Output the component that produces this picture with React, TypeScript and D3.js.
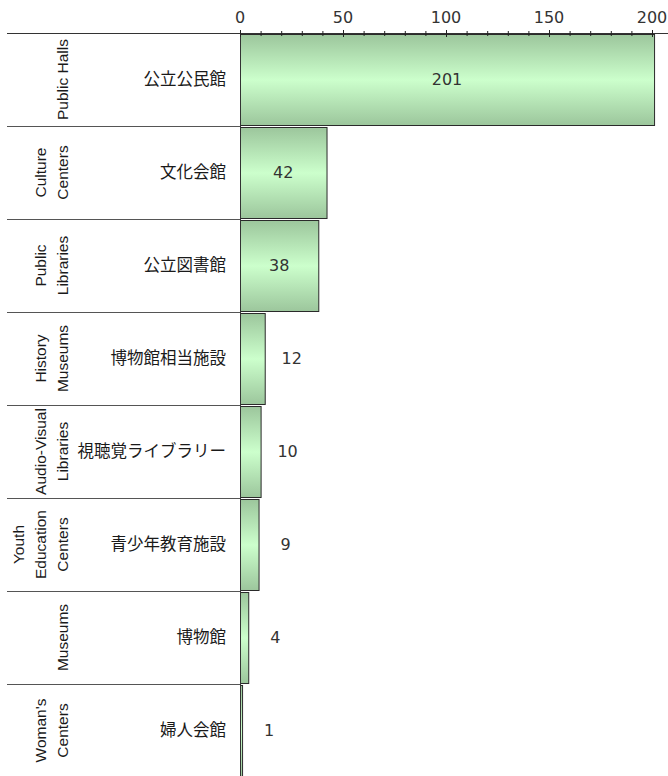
import React from 'react'
import { scaleLinear, scaleBand, range } from 'd3'

const labelsJa = ['公立公民館', '文化会館', '公立図書館', '博物館相当施設', '視聴覚ライブラリー', '青少年教育施設', '博物館', '婦人会館']
const labelsEn = [
  ['Public Halls'],
  ['Culture', 'Centers'],
  ['Public', 'Libraries'],
  ['History', 'Museums'],
  ['Audio-Visual', 'Libraries'],
  ['Youth', 'Education', 'Centers'],
  ['Museums'],
  ["Woman's", 'Centers'],
]
const values = [201, 42, 38, 12, 10, 9, 4, 1]
const majorTicks = [0, 50, 100, 150, 200]

const W = 668
const H = 776
const jaFont = '"Noto Sans CJK JP", sans-serif'
const numFont = '"DejaVu Sans", sans-serif'
const enFont = '"Liberation Sans", Arial, sans-serif'

export default function App() {
  const x = scaleLinear().domain([0, 200]).range([240, 652])
  const y = scaleBand<string>().domain(labelsJa).range([33, 777])
  const bw = y.bandwidth()
  const minor = range(0, 201, 10)

  return (
    <svg width={W} height={H} style={{ position: 'absolute', left: 0, top: 0, background: '#fff' }}>
      <defs>
        <linearGradient id="barFill" x1="0" y1="0" x2="0" y2="1">
          <stop offset="0%" stopColor="#9cc69c" />
          <stop offset="50%" stopColor="#ccffcc" />
          <stop offset="100%" stopColor="#9cc69c" />
        </linearGradient>
      </defs>

      {/* row separators */}
      {labelsJa.map((d) => (
        <line key={'sep' + d} x1={7} x2={240} y1={y(d)! + 0.5} y2={y(d)! + 0.5} stroke="#555" />
      ))}

      {/* bars */}
      {labelsJa.map((d, i) => (
        <rect key={'bar' + d} x={x(0) + 0.5} y={y(d)! + 1.5} width={x(values[i]) - x(0)} height={bw - 2}
          fill="url(#barFill)" stroke="#2a2a2a" strokeWidth={1} />
      ))}

      {/* top axis */}
      <line x1={7} x2={W} y1={33.5} y2={33.5} stroke="#333" />
      <line x1={240.5} x2={240.5} y1={33} y2={H} stroke="#333" />
      {minor.map((t) => {
        const major = t % 50 === 0
        return <line key={'t' + t} x1={x(t) + 0.5} x2={x(t) + 0.5} y1={major ? 30 : 31} y2={major ? 37 : 36} stroke="#222" />
      })}
      {majorTicks.map((t) => (
        <text key={'tl' + t} x={x(t)} y={23} textAnchor="middle" fontFamily={numFont} fontSize={16} fill="#333">{t}</text>
      ))}

      {/* japanese labels */}
      {labelsJa.map((d) => (
        <text key={'ja' + d} x={226} y={y(d)! + bw / 2} dy="0.35em" textAnchor="end" fontFamily={jaFont} fontSize={16.5} fill="#1a1a1a">{d}</text>
      ))}

      {/* english rotated labels */}
      {labelsEn.map((lines, i) => {
        const cy = y(labelsJa[i])! + bw / 2
        return lines.map((ln, j) => {
          const cx = 63 - (lines.length - 1 - j) * 22
          return (
            <text key={'en' + i + j} transform={`translate(${cx},${cy}) rotate(-90)`} dy="0.35em" textAnchor="middle"
              fontFamily={enFont} fontSize={15.5} fill="#1a1a1a">{ln}</text>
          )
        })
      })}

      {/* value labels */}
      {labelsJa.map((d, i) => {
        const v = values[i]
        const inside = x(v) - x(0) > 60
        const lx = inside ? (x(0) + x(v)) / 2 : x(v) + 27
        return (
          <text key={'v' + d} x={lx} y={y(d)! + bw / 2} dy="0.35em" textAnchor="middle" fontFamily={numFont} fontSize={16} fill="#333">{v}</text>
        )
      })}
    </svg>
  )
}
